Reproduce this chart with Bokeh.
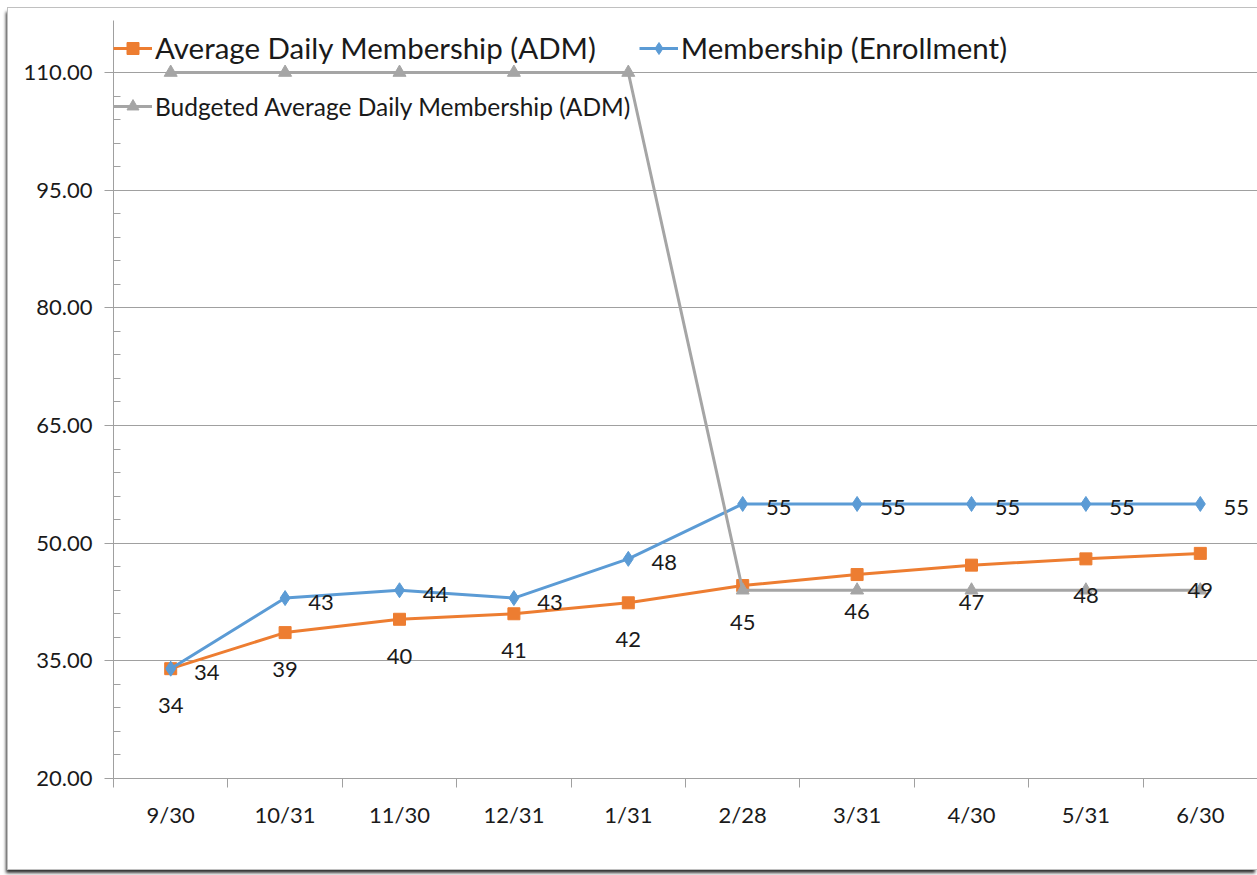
from bokeh.plotting import figure
from bokeh.models import (ColumnDataSource, FixedTicker, NumeralTickFormatter, Range1d,
                          LabelSet, Legend, LegendItem)
from bokeh.core.properties import value
from bokeh.embed import file_html
from bokeh.resources import INLINE

categories = ["9/30", "10/31", "11/30", "12/31", "1/31", "2/28", "3/31", "4/30", "5/31", "6/30"]
adm = [34.0, 38.6, 40.3, 41.0, 42.4, 44.6, 46.0, 47.2, 48.0, 48.7]
membership = [34, 43, 44, 43, 48, 55, 55, 55, 55, 55]
budgeted = [110, 110, 110, 110, 110, 44, 44, 44, 44, 44]
y_ticks = [20, 35, 50, 65, 80, 95, 110]
y_minor = list(range(20, 111, 3))

ORANGE = "#ED7D31"
BLUE = "#5B9BD5"
GRAY = "#A5A5A5"
AXIS = "#a0a0a0"
TEXT = "#1a1a1a"
FONT = "Lato"

xs = list(range(len(categories)))
src = ColumnDataSource(dict(
    x=xs, adm=adm, mem=membership, bud=budgeted,
    adm_lbl=[str(int(round(v))) for v in adm],
    mem_lbl=[str(int(round(v))) for v in membership],
))

p = figure(width=1249, height=861, output_backend="svg", toolbar_location=None,
           x_range=Range1d(-0.5, len(categories) - 0.5),
           y_range=Range1d(20, 20 + 758 / 7.844),
           min_border_left=105, min_border_right=0, min_border_top=12, min_border_bottom=91)
p.outline_line_color = None
p.background_fill_color = "white"
p.border_fill_color = "white"
p.styles = {"margin-left": "8px", "margin-top": "8px",
            "box-shadow": "0 0 0 1px #c0c0c0, -2px 4px 3px #333"}

# axes
p.xaxis.ticker = FixedTicker(ticks=xs, minor_ticks=[i - 0.5 for i in range(len(categories) + 1)])
p.xaxis.major_label_overrides = {i: c for i, c in enumerate(categories)}
p.xaxis.major_tick_out = 0
p.xaxis.major_tick_in = 0
p.xaxis.minor_tick_out = 9
p.xaxis.minor_tick_in = 0
p.xaxis.minor_tick_line_color = AXIS
p.xaxis.axis_line_color = AXIS
p.xaxis.major_label_standoff = 13
p.xaxis.major_label_text_font = FONT
p.xaxis.major_label_text_font_size = "22px"
p.xaxis.major_label_text_color = TEXT

p.yaxis.ticker = FixedTicker(ticks=y_ticks, minor_ticks=y_minor)
p.yaxis.formatter = NumeralTickFormatter(format="0.00")
p.yaxis.major_tick_out = 9
p.yaxis.major_tick_in = 0
p.yaxis.minor_tick_in = 7
p.yaxis.minor_tick_out = 0
p.yaxis.major_tick_line_color = AXIS
p.yaxis.minor_tick_line_color = AXIS
p.yaxis.axis_line_color = AXIS
p.yaxis.major_label_standoff = 12
p.yaxis.major_label_text_font = FONT
p.yaxis.major_label_text_font_size = "22px"
p.yaxis.major_label_text_color = TEXT

p.xgrid.visible = False
p.ygrid.ticker = FixedTicker(ticks=y_ticks)
p.ygrid.grid_line_color = AXIS
p.ygrid.grid_line_width = 1

# series
l1 = p.line("x", "adm", source=src, line_color=ORANGE, line_width=3)
m1 = p.scatter("x", "adm", source=src, marker="square", size=12, fill_color=ORANGE, line_color=ORANGE)
l2 = p.line("x", "mem", source=src, line_color=BLUE, line_width=3)
m2 = p.scatter("x", "mem", source=src, marker="diamond", size=15, fill_color=BLUE, line_color=BLUE)
l3 = p.line("x", "bud", source=src, line_color=GRAY, line_width=3)
m3 = p.scatter("x", "bud", source=src, marker="triangle", size=13, fill_color=GRAY, line_color=GRAY)

# data labels
p.add_layout(LabelSet(x="x", y="adm", text="adm_lbl", source=src, y_offset=-37,
                      text_align="center", text_baseline="middle", text_font=value(FONT),
                      text_font_size="22px", text_color=TEXT))
p.add_layout(LabelSet(x="x", y="mem", text="mem_lbl", source=src, x_offset=36, y_offset=-4,
                      text_align="center", text_baseline="middle", text_font=value(FONT),
                      text_font_size="22px", text_color=TEXT))

# legends
leg1 = Legend(items=[LegendItem(label="Average Daily Membership (ADM)", renderers=[l1, m1]),
                     LegendItem(label="Membership (Enrollment)", renderers=[l2, m2])],
              orientation="horizontal", location=(0, 713), glyph_width=39, glyph_height=30,
              label_standoff=3, spacing=43, padding=0, margin=0,
              label_text_font=FONT, label_text_font_size="29.5px", label_text_color=TEXT,
              background_fill_alpha=0, border_line_color=None)
leg2 = Legend(items=[LegendItem(label="Budgeted Average Daily Membership (ADM)", renderers=[l3, m3])],
              orientation="horizontal", location=(0, 657), glyph_width=39, glyph_height=30,
              label_standoff=3, padding=0, margin=0,
              label_text_font=FONT, label_text_font_size="24.5px", label_text_color=TEXT,
              background_fill_alpha=0, border_line_color=None)
p.add_layout(leg1)
p.add_layout(leg2)

open("out.html", "w").write(file_html(p, INLINE))
